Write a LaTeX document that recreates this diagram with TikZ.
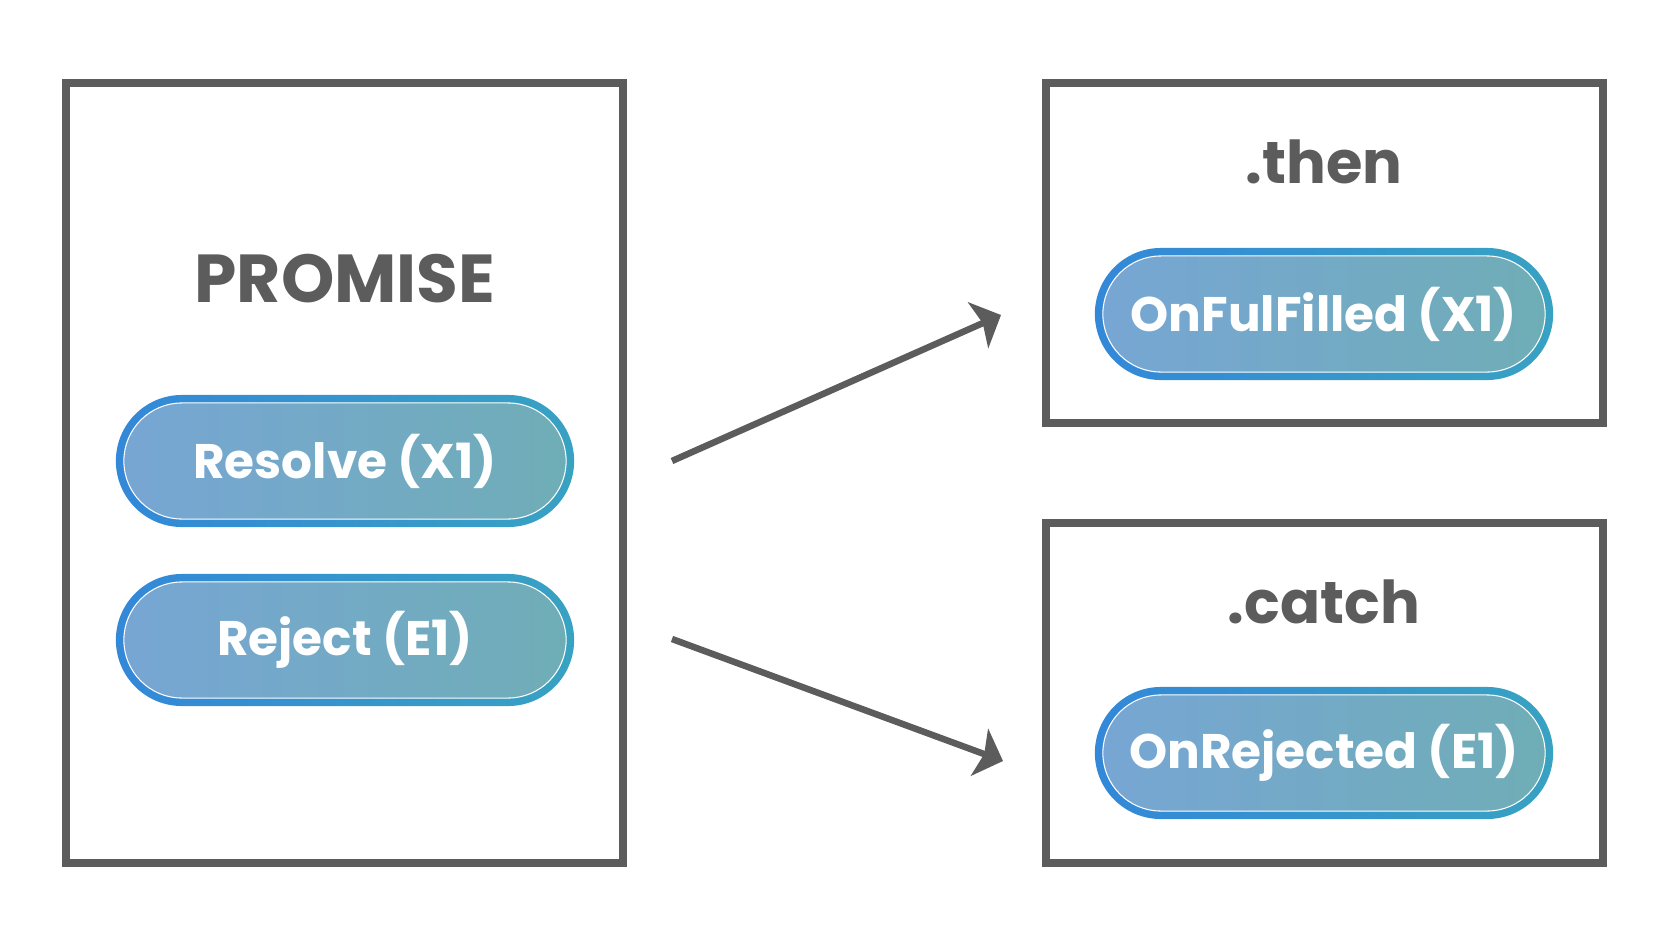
\documentclass[tikz,border=0pt]{standalone}
\usepackage{fontspec}
\setmainfont{Poppins}
\usepackage{tikz}
\usetikzlibrary{arrows.meta}
\usetikzlibrary{positioning}
\definecolor{Gray}{HTML}{5C5C5C}
\definecolor{RimL}{HTML}{3388D8}
\definecolor{RimR}{HTML}{38A2C2}
\definecolor{FillL}{HTML}{77A6D4}
\definecolor{FillR}{HTML}{6FADB6}
\tikzstyle{Abox}=[draw=Gray,line width=2.3pt,inner sep=0]
\tikzstyle{Atitle}=[text=Gray,font=\fontsize{16.8pt}{16.8pt}\bfseries]
\tikzstyle{Arim}=[rounded corners=0.66cm,minimum width=4.58cm,minimum height=1.32cm,
                inner sep=0,left color=RimL,right color=RimR]
\tikzstyle{Apill}=[rounded corners=0.58cm,minimum width=4.42cm,minimum height=1.16cm,
                inner sep=0,draw=white,line width=0.3pt,left color=FillL,right color=FillR,
                text=white,font=\fontsize{13.8pt}{13.8pt}\bfseries]
\tikzstyle{aL}=[draw=Gray,line width=1.85pt,-{Stealth[length=0.25cm,width=0.5cm,inset=0.05cm]}]
\newcommand{\pill}[3]{\node[Arim] (#1r) at (#2) {};\node[Apill] (#1) at (#1r) {#3};}
\begin{document}
\begin{tikzpicture}[x=0.01cm,y=-0.01cm]
	\useasboundingbox (0,0) rectangle (1668,945);
	% boxes
	\draw[Abox] (66,83) rectangle (623,863);
	\draw[Abox] (1046,83) rectangle (1603,423);
	\draw[Abox] (1046,523) rectangle (1603,863);
	% titles
	\node[Atitle,font=\fontsize{19.3pt}{19.3pt}\bfseries] (promise) at (345,279) {PROMISE};
	\node[Atitle] (then) at (1324,162) {.then};
	\node[Atitle] (catch) at (1324,602) {.catch};
	% pills
	\pill{resolve}{345,461}{Resolve (X1)};
	\pill{reject}{345,640}{Reject (E1)};
	\pill{fulfilled}{1324,314}{OnFulFilled (X1)};
	\pill{rejected}{1324,753}{OnRejected (E1)};
	% arrows
	\coordinate (a1) at (672,461);
	\coordinate (b1) at (1001,315);
	\coordinate (a2) at (672,639);
	\coordinate (b2) at (1003,761);
	\draw[aL] (a1) -- (b1);
	\draw[aL] (a2) -- (b2);
\end{tikzpicture}
\end{document}
